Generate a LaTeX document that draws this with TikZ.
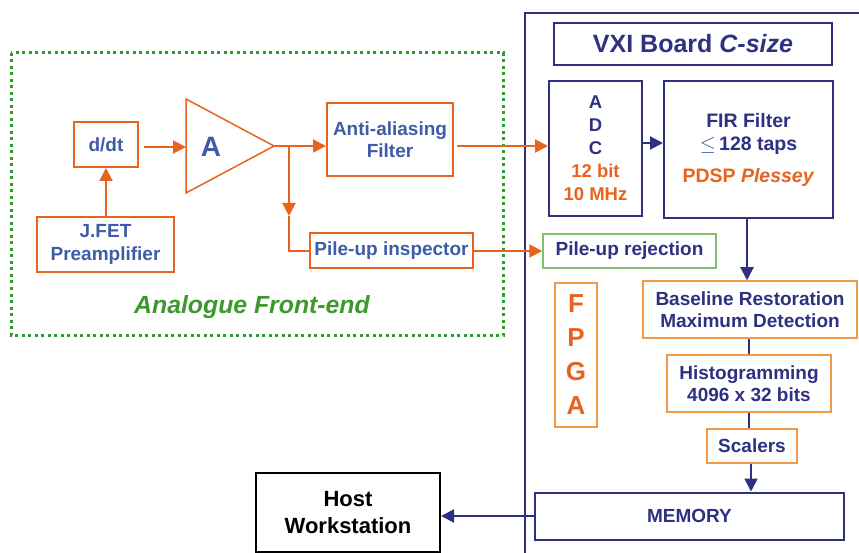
\documentclass[tikz,border=0pt]{standalone}
\usepackage{fontspec}
\setmainfont{Liberation Sans}
\usetikzlibrary{arrows.meta}
\definecolor{org}{HTML}{E8641E}
\definecolor{lorg}{HTML}{F29A4A}
\definecolor{lblue}{HTML}{3E5DA8}
\definecolor{navy}{HTML}{2E3182}
\definecolor{dgreen}{HTML}{2E9B2E}
\definecolor{tgreen}{HTML}{3C9A2C}
\definecolor{lgreen}{HTML}{80C070}
\begin{document}
\begin{tikzpicture}[x=1pt,y=-1pt,
  txt/.style={font=\bfseries\fontsize{19}{22.5}\selectfont, align=center},
  obox/.style={txt, draw=org, line width=2pt, inner sep=0pt, text=lblue},
  lobox/.style={txt, draw=lorg, line width=1.5pt, inner sep=0pt, text=navy},
  nbox/.style={txt, draw=navy, line width=2pt, inner sep=0pt, text=navy},
  oarrow/.style={draw=org, line width=2pt, -{Triangle[length=13pt,width=13pt]}},
  oline/.style={draw=org, line width=2pt},
  narrow/.style={draw=navy, line width=2pt, -{Triangle[length=13pt,width=13pt]}},
  nline/.style={draw=navy, line width=2pt},
]
\useasboundingbox[fill=white] (0,0) rectangle (859,553);
% frames
\draw[dgreen, line width=3pt, dash pattern=on 3pt off 3.5pt] (11,53) rectangle (503,335);
\draw[navy, line width=2pt] (525,560) -- (525,13) -- (865,13);
% analogue front-end
\node[obox, minimum width=64pt, minimum height=45pt] (ddt) at (106,144.5) {d/dt};
\node[obox, minimum width=137pt, minimum height=55pt] (jfet) at (105.5,244.5) {J.FET\\Preamplifier};
\draw[org, line width=1.5pt] (186,99) -- (274,146) -- (186,193) -- cycle;
\coordinate (apex) at (274,146);
\coordinate (amin) at (186,147);
\node[font=\bfseries\fontsize{28}{30}\selectfont, text=lblue] (amp) at (211,147) {A};
\coordinate (junc) at (289,146);
\node[obox, minimum width=126pt, minimum height=73pt] (aaf) at (390,139.5) {Anti-aliasing\\Filter};
\node[obox, minimum width=163pt, minimum height=35pt] (pui) at (391.5,251) {Pile-up inspector};
\coordinate (dmid) at (289,216);
\node[font=\bfseries\itshape\fontsize{24.8}{27}\selectfont, text=tgreen] (afe) at (252,307) {Analogue Front-end};
% VXI board
\node[nbox, minimum width=278pt, minimum height=42pt, font=\bfseries\fontsize{25}{27}\selectfont] (vxi) at (693,44) {VXI Board \textit{C-size}};
\node[nbox, minimum width=93pt, minimum height=135pt, font=\bfseries\fontsize{18.5}{23}\selectfont] (adc) at (595.5,148.5) {A\\D\\C\\\textcolor{org}{12 bit}\\\textcolor{org}{10 MHz}};
\node[nbox, minimum width=169pt, minimum height=137pt, font=\bfseries\fontsize{19.5}{23}\selectfont] (fir) at (748.5,149.5) {FIR Filter\\{\color{lblue}\mdseries$\le$}\,128 taps\\[9pt]\textcolor{org}{PDSP \textit{Plessey}}};
\node[txt, draw=lgreen, line width=1.5pt, inner sep=0pt, text=navy, minimum width=173pt, minimum height=34pt] (pur) at (629.5,251) {Pile-up rejection};
\node[lobox, minimum width=214pt, minimum height=57pt] (bl) at (750,309.5) {Baseline Restoration\\Maximum Detection};
\node[lobox, minimum width=164pt, minimum height=57pt] (hist) at (749,383.5) {Histogramming\\4096 x 32 bits};
\node[lobox, minimum width=90pt, minimum height=34pt] (scal) at (752,446) {Scalers};
\node[nbox, minimum width=309pt, minimum height=47pt] (mem) at (689.5,516) {MEMORY};
\node[draw=lorg, line width=1.5pt, inner sep=0pt, minimum width=42pt, minimum height=144pt, align=center, text=org, font=\bfseries\fontsize{26}{34}\selectfont] (fpga) at (576,355) {F\\P\\G\\A};
\node[draw=black, line width=2pt, inner sep=0pt, minimum width=184pt, minimum height=79pt, align=center, font=\bfseries\fontsize{22}{27}\selectfont] (host) at (348,512.5) {Host\\Workstation};
% connectors
\coordinate (cx1) at (747,0);
\coordinate (cx2) at (749,0);
\coordinate (cx3) at (751,0);
\draw[oarrow] (jfet.north -| ddt) -- (ddt.south);
\draw[oarrow] ([xshift=5pt]ddt.east |- amin) -- (amin);
\draw[oline] (apex) -- (junc);
\draw[oarrow] (junc) -- (aaf.west |- junc);
\draw[oarrow] (junc) -- (dmid);
\draw[oline] (dmid) |- (pui.west);
\draw[oarrow] ([xshift=3pt]aaf.east |- junc) -- (adc.west |- junc);
\draw[oarrow] (pui.east) -- (pur.west);
\draw[narrow] (adc.east |- 0,143) -- (fir.west |- 0,143);
\draw[narrow] (fir.south -| cx1) -- (bl.north -| cx1);
\draw[nline] (bl.south -| cx2) -- (hist.north -| cx2);
\draw[nline] (hist.south -| cx2) -- (scal.north -| cx2);
\draw[narrow] (scal.south -| cx3) -- (mem.north -| cx3);
\draw[narrow] (mem.west) -- (host.east |- mem.west);
\end{tikzpicture}
\end{document}
